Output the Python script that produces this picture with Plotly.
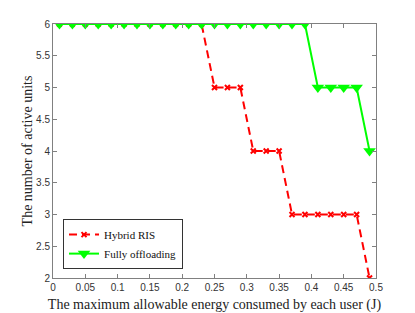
import plotly.graph_objects as go

energy = [0.01, 0.03, 0.05, 0.07, 0.09, 0.11, 0.13, 0.15, 0.17, 0.19, 0.21, 0.23, 0.25,
          0.27, 0.29, 0.31, 0.33, 0.35, 0.37, 0.39, 0.41, 0.43, 0.45, 0.47, 0.49]
hybrid_ris = [6, 6, 6, 6, 6, 6, 6, 6, 6, 6, 6, 6, 5, 5, 5, 4, 4, 4, 3, 3, 3, 3, 3, 3, 2]
fully_offloading = [6, 6, 6, 6, 6, 6, 6, 6, 6, 6, 6, 6, 6, 6, 6, 6, 6, 6, 6, 6, 5, 5, 5, 5, 4]

x_ticks = [0, 0.05, 0.1, 0.15, 0.2, 0.25, 0.3, 0.35, 0.4, 0.45, 0.5]
x_tick_labels = ["0", "0.05", "0.1", "0.15", "0.2", "0.25", "0.3", "0.35", "0.4", "0.45", "0.5"]
y_ticks = [2, 2.5, 3, 3.5, 4, 4.5, 5, 5.5, 6]
y_tick_labels = ["2", "2.5", "3", "3.5", "4", "4.5", "5", "5.5", "6"]

serif = "Liberation Serif"

fig = go.Figure()
fig.add_trace(go.Scatter(
    x=energy, y=hybrid_ris, name="Hybrid RIS", mode="lines+markers",
    line=dict(color="#ff0000", width=2, dash="8px,5px"),
    marker=dict(symbol="x-thin", size=5, color="#ff0000", line=dict(color="#ff0000", width=2)),
))
fig.add_trace(go.Scatter(
    x=energy, y=fully_offloading, name="Fully offloading", mode="lines+markers",
    line=dict(color="#00ff00", width=2),
    marker=dict(symbol="triangle-down", size=11, color="#00ff00"),
))

axis_common = dict(
    showgrid=False, zeroline=False, showline=True, linecolor="#808080", linewidth=1,
    mirror="ticks", ticks="inside", ticklen=4, tickcolor="#808080", automargin=False,
    tickfont=dict(family="Liberation Sans", size=10, color="#333333"),
)
fig.update_layout(
    width=407, height=305,
    margin=dict(l=45, r=39, t=16, b=35),
    paper_bgcolor="white", plot_bgcolor="white",
    showlegend=True,
    legend=dict(
        x=0.031, y=0.035, xanchor="left", yanchor="bottom",
        bordercolor="#333333", borderwidth=1, bgcolor="white",
        font=dict(family=serif, size=11, color="#111111"),
        traceorder="normal", tracegroupgap=0, itemwidth=30,
    ),
    xaxis=dict(
        range=[0, 0.5], tickvals=x_ticks, ticktext=x_tick_labels,
        title=dict(text="The maximum allowable energy consumed by each user (J)",
                   font=dict(family=serif, size=14, color="#222222"),
                   standoff=9),
        **axis_common,
    ),
    yaxis=dict(
        range=[2, 6], tickvals=y_ticks, ticktext=y_tick_labels,
        title=dict(text="The number of active units",
                   font=dict(family=serif, size=14, color="#222222"),
                   standoff=0),
        **axis_common,
    ),
)
fig.write_html("out.html")
